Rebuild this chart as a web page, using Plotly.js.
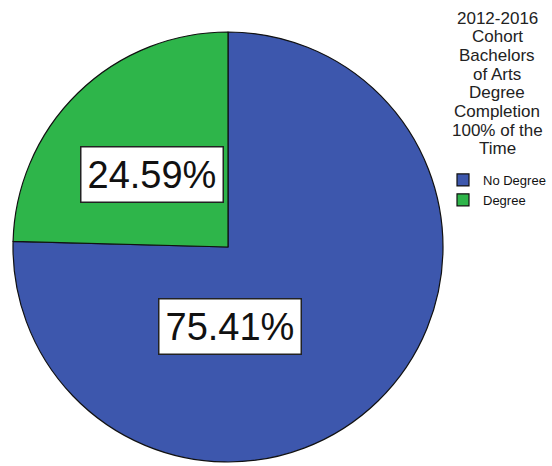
<!DOCTYPE html>
<html>
<head>
<meta charset="utf-8">
<script src="https://cdn.plot.ly/plotly-3.0.1.min.js"></script>
<style>html,body{margin:0;padding:0;background:#fff;}#chart{width:552px;height:466px;}</style>
</head>
<body>
<div id="chart"></div>
<script>
const categories = ["No Degree", "Degree"];
const values = [75.41, 24.59];
const colors = ["#3d57ad", "#2eb54a"];
const legendTitleLines = ["2012-2016", "Cohort", "Bachelors", "of Arts", "Degree", "Completion", "100% of the", "Time"];
const labelPositions = [[0.4167, 0.2983], [0.2754, 0.6245]];

const W = 552, H = 466;
const total = values.reduce((a, b) => a + b, 0);
const FONT = "Liberation Sans, Arial, sans-serif";

const annotations = [];
values.forEach((v, i) => {
  annotations.push({
    xref: "paper", yref: "paper",
    x: labelPositions[i][0], y: labelPositions[i][1],
    xanchor: "center", yanchor: "middle",
    text: (v / total * 100).toFixed(2) + "%",
    showarrow: false,
    font: {family: FONT, size: 38, color: "#111"},
    bgcolor: "#ffffff", bordercolor: "#222", borderwidth: 1.5, borderpad: 6
  });
});
legendTitleLines.forEach((t, i) => {
  annotations.push({
    xref: "paper", yref: "paper",
    x: 497 / W, y: 1 - (18 + i * 18.7) / H,
    xanchor: "center", yanchor: "middle",
    text: t, showarrow: false,
    font: {family: FONT, size: 17, color: "#222"}
  });
});

const data = [{
  type: "pie",
  labels: categories,
  values: values,
  sort: false,
  direction: "clockwise",
  rotation: 0,
  textinfo: "none",
  hoverinfo: "label+percent",
  marker: {colors: colors, line: {color: "#111", width: 1.2}},
  domain: {x: [13 / W, 443 / W], y: [1 - 462 / H, 1 - 32 / H]}
}];

const layout = {
  width: W, height: H,
  margin: {l: 0, r: 0, t: 0, b: 0},
  paper_bgcolor: "#fff",
  showlegend: true,
  legend: {
    x: 443 / W, y: 1 - 165 / H, xanchor: "left", yanchor: "top",
    font: {family: FONT, size: 13, color: "#111"},
    bgcolor: "rgba(0,0,0,0)", tracegroupgap: 0
  },
  annotations: annotations
};

Plotly.newPlot("chart", data, layout, {displayModeBar: false, staticPlot: true});
</script>
</body>
</html>
